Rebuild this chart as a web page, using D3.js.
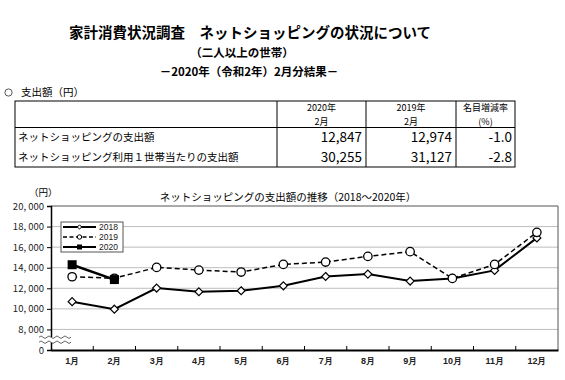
<!DOCTYPE html>
<html><head><meta charset="utf-8">
<script src="https://cdn.jsdelivr.net/npm/d3@7"></script>
<style>
html,body{margin:0;padding:0;background:#fff;}
svg{display:block;font-family:"Noto Sans CJK JP","Noto Sans",sans-serif;}
</style></head>
<body><svg id="c" width="565" height="380"></svg>
<script>
const months = ["1月","2月","3月","4月","5月","6月","7月","8月","9月","10月","11月","12月"];
const s2018 = [10700, 9970, 12020, 11660, 11760, 12240, 13150, 13380, 12700, 12960, 13740, 16900];
const s2019 = [13120, 12974, 14030, 13770, 13580, 14320, 14550, 15100, 15560, 12960, 14320, 17440];
const s2020 = [14290, 12847];
const seriesNames = ["2018","2019","2020"];
const yTickValues = [0, 8000, 10000, 12000, 14000, 16000, 18000, 20000];
const yTickLabels = ["0","8, 000","10, 000","12, 000","14, 000","16, 000","18, 000","20, 000"];
const tableCols = ["2020年|2月","2019年|2月","名目増減率|(%)"];
const tableRows = ["ネットショッピングの支出額","ネットショッピング利用１世帯当たりの支出額"];
const tableVals2020 = ["12,847","30,255"];
const tableVals2019 = ["12,974","31,127"];
const tableRates = ["-1.0","-2.8"];

const svg = d3.select("#c");

// Titles
svg.append("text").attr("x",250).attr("y",38).attr("text-anchor","middle")
  .attr("font-size",14.5).attr("font-weight","bold").text("家計消費状況調査　ネットショッピングの状況について");
svg.append("text").attr("x",242).attr("y",57).attr("text-anchor","middle")
  .attr("font-size",11.5).attr("font-weight","bold").text("（二人以上の世帯）");
svg.append("text").attr("x",249).attr("y",76).attr("text-anchor","middle")
  .attr("font-size",11.5).attr("font-weight","bold").text("－2020年（令和2年）2月分結果－");
svg.append("circle").attr("cx",8.5).attr("cy",92.5).attr("r",3.6).attr("fill","none").attr("stroke","#444").attr("stroke-width",0.9);
svg.append("text").attr("x",21).attr("y",96).attr("font-size",10.5).text("支出額（円）");

// Table
const tx = [15, 277, 366, 456, 515];
const tTop = 101, tHead = 127.5, tBot = 167;
const tg = svg.append("g").attr("stroke","#000").attr("stroke-width",1);
tg.append("rect").attr("x",tx[0]).attr("y",tTop).attr("width",tx[4]-tx[0]).attr("height",tBot-tTop).attr("fill","none");
tg.append("line").attr("x1",tx[0]).attr("x2",tx[4]).attr("y1",tHead).attr("y2",tHead);
tx.slice(1,4).forEach(x=>tg.append("line").attr("x1",x).attr("x2",x).attr("y1",tTop).attr("y2",tBot));
tableCols.forEach((c,i)=>{
  const cx = (tx[i+1]+tx[i+2])/2;
  const parts = c.split("|");
  svg.append("text").attr("x",cx).attr("y",111).attr("text-anchor","middle").attr("font-size",9).text(parts[0]);
  svg.append("text").attr("x",cx).attr("y",124.5).attr("text-anchor","middle").attr("font-size",9).text(parts[1]);
});
tableRows.forEach((r,i)=>{
  const y = 141 + i*20;
  svg.append("text").attr("x",18).attr("y",y).attr("font-size",10.5).text(r);
  svg.append("text").attr("x",tx[2]-4).attr("y",y+1).attr("text-anchor","end").attr("font-size",13.5).text(tableVals2020[i]);
  svg.append("text").attr("x",tx[3]-4).attr("y",y+1).attr("text-anchor","end").attr("font-size",13.5).text(tableVals2019[i]);
  svg.append("text").attr("x",tx[4]-3).attr("y",y+1).attr("text-anchor","end").attr("font-size",13.5).text(tableRates[i]);
});

// Chart
const L = 51, R = 558, T = 206, B = 350;
const x = d3.scaleBand().domain(months).range([L,R]).padding(0);
const xc = m => x(m) + x.bandwidth()/2;
const y = d3.scaleLinear().domain([0, 8000, 20000]).range([B, B - (B-T)/7, T]);

svg.append("text").attr("x",288).attr("y",201).attr("text-anchor","middle").attr("font-size",10.5)
  .text("ネットショッピングの支出額の推移（2018～2020年）");
svg.append("text").attr("x",29).attr("y",196).attr("font-size",9.5).text("（円）");

// gridlines
svg.append("g").selectAll("line").data(yTickValues.filter(v=>v>=8000 && v<20000)).join("line")
  .attr("x1",L).attr("x2",R).attr("y1",d=>y(d)).attr("y2",d=>y(d))
  .attr("stroke","#bdbdbd").attr("stroke-width",1);
// frame
svg.append("line").attr("x1",L).attr("x2",R).attr("y1",T).attr("y2",T).attr("stroke","#555").attr("stroke-width",1);
svg.append("line").attr("x1",R).attr("x2",R).attr("y1",T).attr("y2",B).attr("stroke","#555").attr("stroke-width",1);

// y axis
const yAxis = d3.axisLeft(y).tickValues(yTickValues).tickFormat((d,i)=>yTickLabels[i]).tickSize(4).tickPadding(3);
const ya = svg.append("g").attr("transform",`translate(${L},0)`).call(yAxis);
ya.select(".domain").attr("stroke","#000").attr("stroke-width",1.5);
ya.selectAll("text").attr("font-size",9.5).attr("fill","#222").attr("font-family","'Noto Sans CJK JP',sans-serif");
ya.selectAll(".tick line").attr("stroke","#000");

// x axis
const xa = svg.append("g").attr("transform",`translate(0,${B})`)
  .call(d3.axisBottom(x).tickSize(0).tickPadding(8));
xa.select(".domain").attr("stroke","#000").attr("stroke-width",2);
xa.selectAll("text").attr("font-size",9).attr("font-weight","bold").attr("fill","#222");
svg.append("g").selectAll("line").data(months.slice(1)).join("line")
  .attr("x1",d=>x(d)).attr("x2",d=>x(d)).attr("y1",B).attr("y2",B-4).attr("stroke","#000");

// axis break
const by = (y(0)+y(8000))/2;
const wave = (yy)=>{ let p=`M39,${yy}`; for(let i=0;i<4;i++){const x0=39+i*8; p+=` Q${x0+2},${yy-2.5} ${x0+4},${yy} T${x0+8},${yy}`;} return p;};
svg.append("rect").attr("x",L-3).attr("y",by-2.5).attr("width",6).attr("height",5).attr("fill","#fff");
svg.append("path").attr("d",wave(by-2.5)).attr("fill","none").attr("stroke","#666").attr("stroke-width",1);
svg.append("path").attr("d",wave(by+2.5)).attr("fill","none").attr("stroke","#666").attr("stroke-width",1);

// lines
const line = d3.line().x((d,i)=>xc(months[i])).y(d=>y(d));
svg.append("path").attr("d",line(s2018)).attr("fill","none").attr("stroke","#000").attr("stroke-width",2);
svg.append("path").attr("d",line(s2019)).attr("fill","none").attr("stroke","#000").attr("stroke-width",1.5).attr("stroke-dasharray","5,3");
svg.append("path").attr("d",line(s2020)).attr("fill","none").attr("stroke","#000").attr("stroke-width",2.5);

const diamond = d3.symbol().type(d3.symbolDiamond2).size(40);
svg.append("g").selectAll("path").data(s2018).join("path")
  .attr("d",diamond).attr("transform",(d,i)=>`translate(${xc(months[i])},${y(d)})`)
  .attr("fill","#fff").attr("stroke","#000").attr("stroke-width",1.2);
svg.append("g").selectAll("circle").data(s2019).join("circle")
  .attr("cx",(d,i)=>xc(months[i])).attr("cy",d=>y(d)).attr("r",4.2)
  .attr("fill","#fff").attr("stroke","#000").attr("stroke-width",1.3);
svg.append("g").selectAll("rect").data(s2020).join("rect")
  .attr("x",(d,i)=>xc(months[i])-4.5).attr("y",d=>y(d)-4.5).attr("width",9).attr("height",9).attr("fill","#000");

// legend
const lg = svg.append("g");
lg.append("rect").attr("x",61).attr("y",222).attr("width",62).attr("height",30).attr("fill","#fff").attr("stroke","#555");
seriesNames.forEach((n,i)=>{
  const yy = 227 + i*10;
  const l = lg.append("line").attr("x1",63).attr("x2",96).attr("y1",yy).attr("y2",yy).attr("stroke","#000")
    .attr("stroke-width", i===1?1.3:1.8);
  if(i===1) l.attr("stroke-dasharray","4,2.5");
  if(i===0) lg.append("path").attr("d",d3.symbol().type(d3.symbolDiamond2).size(12)).attr("transform",`translate(79.5,${yy})`).attr("fill","#fff").attr("stroke","#000");
  if(i===1) lg.append("circle").attr("cx",79.5).attr("cy",yy).attr("r",2.2).attr("fill","#fff").attr("stroke","#000");
  if(i===2) lg.append("rect").attr("x",77).attr("y",yy-2.5).attr("width",5).attr("height",5).attr("fill","#000");
  lg.append("text").attr("x",99).attr("y",yy+3.2).attr("font-size",8.5).attr("font-family","'Liberation Sans',sans-serif").attr("fill","#222").text(n);
});
</script></body></html>
